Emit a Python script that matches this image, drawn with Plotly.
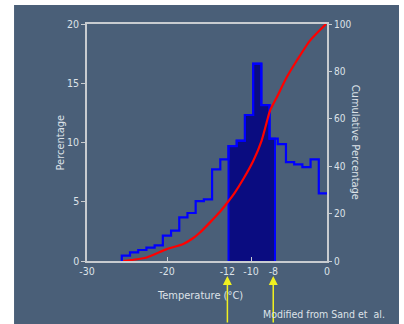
import plotly.graph_objects as go

# ---- data ----
bin_left_edge = -25.65          # left edge of first bin (axis units of the drawing)
bin_width = 1.026
pct = [0.45, 0.73, 0.93, 1.13, 1.32, 2.14, 2.56, 3.68, 4.05, 5.06, 5.2, 7.74, 8.58,
       9.7, 10.15, 12.32, 16.65, 13.16, 10.32, 9.87, 8.35, 8.16, 7.93, 8.58, 5.71]
shade_from_bin = 13
shade_end = -6.5

cum_x = [-25.46, -22.54, -20.04, -17.96, -16.71, -15.875, -14.625, -13.375, -12.42,
         -11.5, -10.46, -9.21, -8.17, -7.54, -7.125, -6.29, -5.04, -3.79, -2.125, -0.125]
cum_y = [0, 1.5, 5, 7.2, 9.7, 12, 16.3, 20.8, 24.8, 29, 34.6, 42.3, 50.8, 58.5, 63.4,
         69, 77.5, 84.5, 93, 100]

x_tick_vals = [-30, -20, -12.45, -9.5, -6.7, 0]
x_tick_text = ["-30", "-20", "-12", "-10", "-8", "0"]
arrow_x = [-12.45, -6.72]

edges = [bin_left_edge + bin_width * k for k in range(len(pct) + 1)]

FONT = "Liberation Sans Narrow, DejaVu Sans Condensed, Arial Narrow, Liberation Sans, sans-serif"
TXT = "#dde2e8"
PANEL = "#4a5f78"

fig = go.Figure()

# shaded part of histogram
sx = [edges[shade_from_bin]]
sy = [0]
k = shade_from_bin
while edges[k] < shade_end:
    sx.append(edges[k])
    sy.append(pct[k])
    k += 1
sx += [shade_end, shade_end]
sy += [sy[-1], 0]
fig.add_trace(go.Scatter(x=sx, y=sy, mode="lines", line=dict(color="#0000ff", width=2, shape="hv"),
                         fill="toself", fillcolor="#0a0c80", hoverinfo="skip", showlegend=False))

# histogram outline
hx = [edges[0]] + edges[:-1] + [edges[-1]]
hy = [0] + pct + [pct[-1]]
fig.add_trace(go.Scatter(x=hx, y=hy, mode="lines", line=dict(color="#0000ff", width=2.2, shape="hv"),
                         showlegend=False))

# cumulative curve
fig.add_trace(go.Scatter(x=cum_x, y=cum_y, mode="lines", yaxis="y2",
                         line=dict(color="#ff0000", width=2.2, shape="spline", smoothing=0.6),
                         showlegend=False))

# panel background
fig.add_shape(type="rect", xref="paper", yref="paper", x0=-0.304, x1=1.3, y0=-0.4, y1=1.08,
              fillcolor=PANEL, line=dict(width=0), layer="below")

for ax_ in arrow_x:
    fig.add_annotation(x=ax_, y=-0.063, xref="x", yref="paper", text="", showarrow=True,
                       ax=0, ay=70, arrowhead=2, arrowsize=1.2, arrowwidth=1.5,
                       arrowcolor="#f0f020")

fig.add_annotation(x=-0.1125, y=0.5, xref="paper", yref="paper", text="Percentage",
                   xanchor="center", yanchor="middle",
                   textangle=-90, showarrow=False, font=dict(family=FONT, size=11, color=TXT))
fig.add_annotation(x=1.12, y=0.5, xref="paper", yref="paper", text="Cumulative Percentage",
                   xanchor="center", yanchor="middle",
                   textangle=90, showarrow=False, font=dict(family=FONT, size=11, color=TXT))
fig.add_annotation(x=0.471, y=-0.1435, xref="paper", yref="paper", text="Temperature (°C)",
                   xanchor="center", yanchor="middle",
                   showarrow=False, font=dict(family=FONT, size=11, color=TXT))
fig.add_annotation(x=1.25, y=-0.224, xref="paper", yref="paper", text="Modified from Sand et  al.",
                   xanchor="right", yanchor="middle",
                   showarrow=False, font=dict(family=FONT, size=10.5, color=TXT))

axis_line = "#c8ccd0"
fig.update_layout(
    width=404, height=324,
    margin=dict(l=87, r=77, t=24, b=63),
    paper_bgcolor="white", plot_bgcolor="#222222",
    font=dict(family=FONT, size=10, color=TXT),
    xaxis=dict(range=[-30, 0], tickmode="array", tickvals=x_tick_vals, ticktext=x_tick_text,
               ticks="", showgrid=False, zeroline=False, showline=True, mirror=True,
               linecolor=axis_line, linewidth=1.5,
               minor=dict(tickmode="array", tickvals=[-20, -9.45], ticks="inside",
                          ticklen=4, tickcolor=axis_line, tickwidth=1.2, showgrid=False),
               tickfont=dict(family=FONT, size=10.5, color=TXT)),
    yaxis=dict(range=[0, 20], tickvals=[0, 5, 10, 15, 20], ticks="outside", ticklen=4,
               tickcolor=axis_line, showgrid=False, zeroline=False, showline=True, mirror=True,
               linecolor=axis_line, linewidth=1.5, tickfont=dict(family=FONT, size=10.5, color=TXT)),
    yaxis2=dict(range=[0, 100], tickvals=[0, 20, 40, 60, 80, 100], overlaying="y", side="right",
                ticks="outside", ticklen=4, tickcolor=axis_line, showgrid=False, zeroline=False,
                showline=False, tickfont=dict(family=FONT, size=10, color=TXT)),
)

fig.write_html("out.html", config={"displayModeBar": False},
               post_script="document.body.style.margin='0';document.body.style.overflow='hidden';")
